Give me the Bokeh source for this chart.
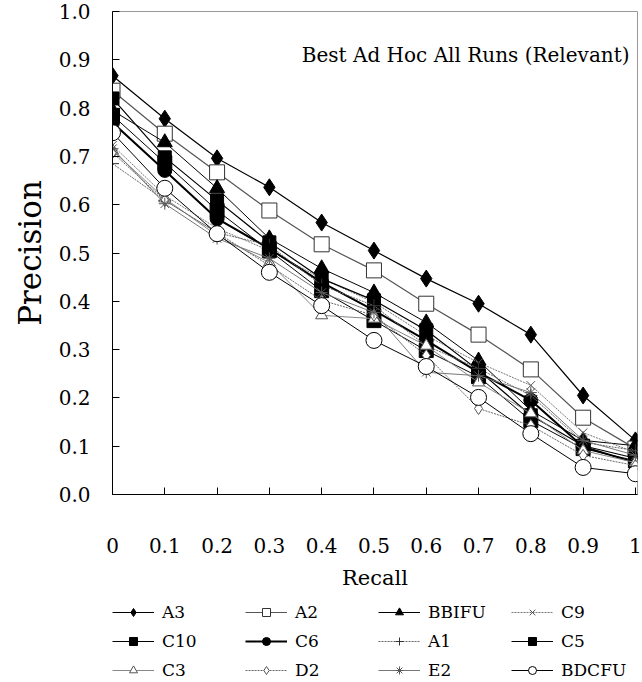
from bokeh.plotting import figure
from bokeh.models import Range1d, Legend, LegendItem, Label, FixedTicker
from bokeh.layouts import column
from bokeh.embed import file_html
from bokeh.resources import INLINE

recall = [0, 0.1, 0.2, 0.3, 0.4, 0.5, 0.6, 0.7, 0.8, 0.9, 1.0]

A3 = [0.867, 0.778, 0.696, 0.636, 0.563, 0.505, 0.447, 0.395, 0.331, 0.205, 0.112]
A2 = [0.836, 0.747, 0.667, 0.588, 0.518, 0.464, 0.395, 0.331, 0.259, 0.159, 0.095]
BBIFU = [0.795, 0.729, 0.634, 0.530, 0.468, 0.418, 0.356, 0.277, 0.174, 0.112, 0.101]
C9 = [0.723, 0.619, 0.551, 0.505, 0.447, 0.398, 0.329, 0.273, 0.226, 0.128, 0.087]
C10 = [0.820, 0.698, 0.609, 0.522, 0.447, 0.402, 0.340, 0.257, 0.164, 0.101, 0.075]
C6 = [0.770, 0.671, 0.571, 0.509, 0.439, 0.381, 0.319, 0.253, 0.195, 0.099, 0.066]
A1 = [0.685, 0.609, 0.542, 0.516, 0.433, 0.391, 0.308, 0.261, 0.205, 0.108, 0.091]
C5 = [0.785, 0.687, 0.588, 0.505, 0.422, 0.360, 0.298, 0.244, 0.153, 0.095, 0.070]
C3 = [0.712, 0.613, 0.536, 0.480, 0.371, 0.364, 0.308, 0.232, 0.168, 0.091, 0.066]
D2 = [0.708, 0.609, 0.542, 0.474, 0.402, 0.371, 0.288, 0.178, 0.143, 0.081, 0.060]
E2 = [0.716, 0.602, 0.530, 0.489, 0.418, 0.377, 0.253, 0.246, 0.211, 0.112, 0.081]
BDCFU = [0.749, 0.634, 0.540, 0.460, 0.391, 0.319, 0.265, 0.201, 0.126, 0.056, 0.043]

x_ticks = [0, 0.1, 0.2, 0.3, 0.4, 0.5, 0.6, 0.7, 0.8, 0.9, 1.0]
x_tick_labels = ["0", "0.1", "0.2", "0.3", "0.4", "0.5", "0.6", "0.7", "0.8", "0.9", "1"]
y_ticks = [0.0, 0.1, 0.2, 0.3, 0.4, 0.5, 0.6, 0.7, 0.8, 0.9, 1.0]
y_tick_labels = ["0.0", "0.1", "0.2", "0.3", "0.4", "0.5", "0.6", "0.7", "0.8", "0.9", "1.0"]

FONT = "DejaVu Serif"

p = figure(frame_width=525, frame_height=483, x_range=Range1d(0, 1.004), y_range=Range1d(0, 1),
           output_backend="svg", toolbar_location=None,
           min_border_left=112, min_border_top=11, min_border_right=5, min_border_bottom=103)
p.grid.visible = False
p.outline_line_color = "#999999"
p.outline_line_width = 1
p.background_fill_color = "white"
p.border_fill_color = "white"

# axes
p.xaxis.ticker = FixedTicker(ticks=x_ticks)
p.xaxis.major_label_overrides = {t: l for t, l in zip(x_ticks, x_tick_labels)}
p.yaxis.ticker = FixedTicker(ticks=y_ticks)
p.yaxis.major_label_overrides = {t: l for t, l in zip(y_ticks, y_tick_labels)}
for ax in (p.xaxis, p.yaxis):
    ax.axis_line_color = "black"
    ax.axis_line_width = 1
    ax.major_tick_in = 7
    ax.major_tick_out = 0
    ax.minor_tick_line_color = None
    ax.major_tick_line_color = "black"
    ax.major_label_text_font = FONT
    ax.major_label_text_font_size = "20px"
    ax.major_label_text_color = "black"
    ax.axis_label_text_font = FONT
    ax.axis_label_text_font_style = "normal"
    ax.axis_label_text_color = "black"
p.xaxis.major_label_standoff = 43
p.yaxis.major_label_standoff = 22
p.xaxis.axis_label = "Recall"
p.xaxis.axis_label_text_font_size = "21px"
p.xaxis.axis_label_standoff = 10
p.yaxis.axis_label = "Precision"
p.yaxis.axis_label_text_font_size = "31px"
p.yaxis.axis_label_standoff = 8

series = [
    ("A3", A3, dict(color="black", width=1.2, dash="solid"), dict(marker="diamond", size=17, fill="black", line="black")),
    ("A2", A2, dict(color="#555555", width=1.2, dash="solid"), dict(marker="square", size=15, fill="white", line="#333333")),
    ("BBIFU", BBIFU, dict(color="black", width=1, dash="solid"), dict(marker="triangle", size=15, fill="black", line="black")),
    ("C9", C9, dict(color="#777777", width=1, dash="2 1"), dict(marker="x", size=12, fill="white", line="#555555")),
    ("C10", C10, dict(color="black", width=1.2, dash="solid"), dict(marker="square", size=13, fill="black", line="black")),
    ("C6", C6, dict(color="black", width=2, dash="solid"), dict(marker="circle", size=14, fill="black", line="black")),
    ("A1", A1, dict(color="#666666", width=1, dash="2 1"), dict(marker="cross", size=13, fill="white", line="#333333")),
    ("C5", C5, dict(color="black", width=1, dash="solid"), dict(marker="square", size=14, fill="black", line="black")),
    ("C3", C3, dict(color="#888888", width=1, dash="solid"), dict(marker="triangle", size=12, fill="white", line="#555555")),
    ("D2", D2, dict(color="#666666", width=1, dash="2 1"), dict(marker="diamond", size=12, fill="white", line="#555555")),
    ("E2", E2, dict(color="#777777", width=1, dash="solid"), dict(marker="asterisk", size=12, fill="white", line="#555555")),
    ("BDCFU", BDCFU, dict(color="black", width=1, dash="solid"), dict(marker="circle", size=16, fill="white", line="black")),
]

# legend figure below the chart (same series, drawn outside its visible range)
q = figure(width=642, height=85, x_range=Range1d(10, 11), y_range=Range1d(10, 11),
           output_backend="svg", toolbar_location=None, x_axis_type=None, y_axis_type=None,
           min_border=0)
q.grid.visible = False
q.outline_line_color = None
q.background_fill_color = "white"
q.border_fill_color = "white"

items = []
for name, ys, ln, mk in series:
    p.line(recall, ys, line_color=ln["color"], line_width=ln["width"], line_dash=ln["dash"])
    p.scatter(recall, ys, marker=mk["marker"], size=mk["size"], fill_color=mk["fill"],
              line_color=mk["line"], line_width=1)
    lr = q.line(recall, ys, line_color=ln["color"], line_width=ln["width"], line_dash=ln["dash"])
    sr = q.scatter(recall, ys, marker=mk["marker"], size=mk["size"], fill_color=mk["fill"],
                   line_color=mk["line"], line_width=1)
    items.append(LegendItem(label=name, renderers=[lr, sr]))

legend = Legend(items=items, orientation="horizontal", nrows=3, location=(0, 2),
                label_text_font=FONT, label_text_font_size="17px", label_text_color="black",
                glyph_width=42, glyph_height=20, label_height=20, label_width=74,
                label_standoff=8, spacing=9, padding=0, margin=0,
                border_line_alpha=0, background_fill_alpha=0)
q.add_layout(legend)

title = Label(x=0.362, y=0.909, x_units="data", y_units="data",
              text="Best Ad Hoc All Runs (Relevant)", text_font=FONT,
              text_font_size="20px", text_baseline="middle", text_color="black")
p.add_layout(title)

layout = column(p, q, spacing=0)
open("out.html", "w").write(file_html(layout, INLINE))
